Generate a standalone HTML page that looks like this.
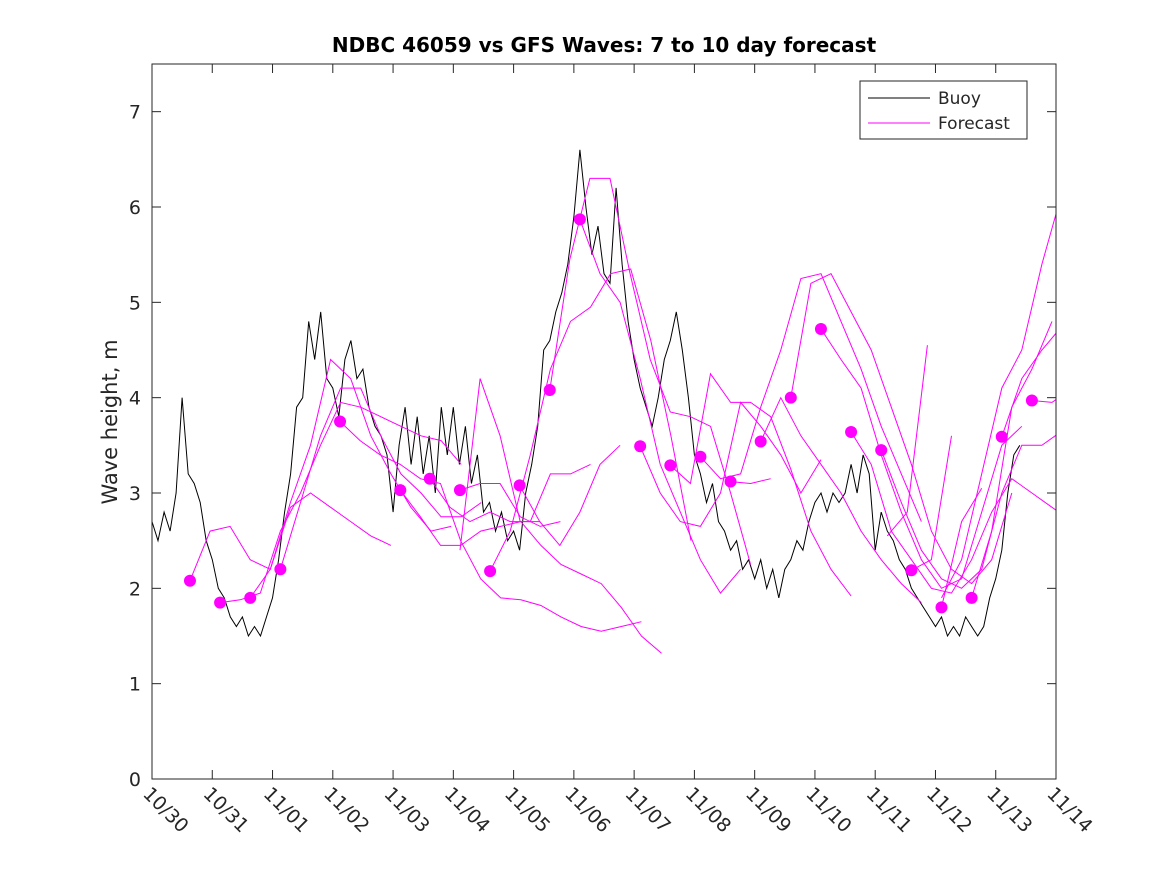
<!DOCTYPE html>
<html><head><meta charset="utf-8"><style>
body{margin:0;background:#fff;}
svg text{font-family:"DejaVu Sans","Liberation Sans",sans-serif;fill:#262626;}
</style></head><body>
<svg id="chart" width="1167" height="875" viewBox="0 0 1167 875" xmlns="http://www.w3.org/2000/svg">
<rect width="1167" height="875" fill="#fff"/>
<text x="604" y="52" text-anchor="middle" font-size="20" font-weight="bold" style="fill:#000">NDBC 46059 vs GFS Waves: 7 to 10 day forecast</text>
<text transform="translate(117,422) rotate(-90)" text-anchor="middle" font-size="21">Wave height, m</text>
<g id="marks"></g>
<rect x="152" y="64" width="904" height="715" fill="none" stroke="#262626" stroke-width="1"/>
<g id="axes"></g>
<g>
<rect x="860" y="81" width="167" height="58" fill="#fff" stroke="#262626"/>
<line x1="868" y1="98" x2="930" y2="98" stroke="#000"/>
<text x="938" y="104" font-size="17">Buoy</text>
<line x1="868" y1="123" x2="930" y2="123" stroke="#f0f"/>
<text x="938" y="129" font-size="17">Forecast</text>
</g>
</svg>
<script>
const xTickLabels=["10/30","10/31","11/01","11/02","11/03","11/04","11/05","11/06","11/07","11/08","11/09","11/10","11/11","11/12","11/13","11/14"];
const yTicks=[0,1,2,3,4,5,6,7];
const buoyStep=0.1;
const buoyValues=[2.7,2.5,2.8,2.6,3.0,4.0,3.2,3.1,2.9,2.5,
2.3,2.0,1.9,1.7,1.6,1.7,1.5,1.6,1.5,1.7,
1.9,2.3,2.8,3.2,3.9,4.0,4.8,4.4,4.9,4.2,
4.1,3.8,4.4,4.6,4.2,4.3,3.9,3.7,3.6,3.4,
2.8,3.5,3.9,3.3,3.8,3.2,3.6,3.0,3.9,3.4,
3.9,3.3,3.7,3.1,3.4,2.8,2.9,2.6,2.8,2.5,
2.6,2.4,3.0,3.3,3.7,4.5,4.6,4.9,5.1,5.4,
5.9,6.6,6.0,5.5,5.8,5.3,5.2,6.2,5.4,4.8,
4.4,4.1,3.9,3.7,4.0,4.4,4.6,4.9,4.5,4.0,
3.4,3.2,2.9,3.1,2.7,2.6,2.4,2.5,2.2,2.3,
2.1,2.3,2.0,2.2,1.9,2.2,2.3,2.5,2.4,2.7,
2.9,3.0,2.8,3.0,2.9,3.0,3.3,3.0,3.4,3.2,
2.4,2.8,2.6,2.5,2.3,2.2,2.0,1.9,1.8,1.7,
1.6,1.7,1.5,1.6,1.5,1.7,1.6,1.5,1.6,1.9,
2.1,2.4,3.0,3.4,3.5];
const fcStep=1/3;
const fcStarts=[0.63,1.13,1.63,2.13,3.12,4.12,4.61,5.11,5.11,5.61,6.1,6.6,7.1,8.1,8.6,9.1,9.6,10.1,10.6,11.1,11.6,12.1,12.6,12.2,13.1,13.6,14.1,14.6,13.1];
const fcValues=[
[2.08,2.6,2.65,2.3,2.2,2.85,3.0,2.85,2.7,2.55,2.45],
[1.85,1.88,1.95,2.6,3.0,3.5,3.95,3.9,3.8,3.7,3.6,3.55,3.3],
[1.9,2.2,2.9,3.5,4.4,4.2,3.6,3.2,2.85,2.6,2.65],
[2.2,2.9,3.6,4.1,4.1,3.6,3.2,3.0,2.75,2.75,2.9],
[3.75,3.55,3.4,3.3,3.15,3.1,2.5,2.1,1.9,1.88,1.82,1.7,1.6,1.55,1.6,1.65],
[3.03,2.75,2.45,2.45,2.6,2.65,2.7,2.45,2.25,2.15,2.05,1.8,1.5,1.32],
[3.15,2.85,2.7,2.8,2.7,2.7,3.2,3.2,3.3],
[3.03,3.1,3.1,2.75,2.65,2.7],
[2.4,4.2,3.6,2.7,2.7],
[2.18,2.6,3.4,4.3,4.8,4.95,5.3,5.35,4.6,3.6,2.5],
[3.08,2.7,2.45,2.8,3.3,3.5],
[4.08,5.45,6.3,6.3,5.3,4.4,3.85,3.8,3.7,3.0,2.25],
[5.87,5.3,5.0,4.2,3.3,2.8,2.3,1.95,2.2],
[3.49,3.0,2.7,2.65,3.0,3.95,3.7,3.4,3.0,3.35],
[3.29,3.1,4.25,3.95,3.95,3.8,3.25,2.6,2.2,1.92],
[3.38,3.15,3.2,3.9,4.5,5.25,5.3,4.8,4.3,3.7,3.2,2.7],
[3.12,3.1,3.15],
[3.54,4.0,3.6,3.3,3.0,2.6,2.3,2.05,1.85],
[4.0,5.2,5.3,4.9,4.5,3.9,3.3,2.6,2.2,2.05,2.3,3.0],
[4.72,4.4,4.1,3.4,2.8,2.3,2.0,2.1,2.8,3.5,3.7],
[3.64,3.3,2.6,2.3,2.0,1.95,2.3,2.8,3.15,3.0,2.85,2.7],
[3.45,2.9,2.4,2.1,2.0,2.2,3.0,3.5,3.5,3.65],
[2.19,2.3,3.6],
[2.55,2.8,4.55],
[1.8,2.7,3.05],
[1.9,2.6,3.9,4.3,4.8],
[3.59,4.2,4.5,4.75],
[3.97,3.95,4.1],
[1.9,2.3,3.2,4.1,4.5,5.4,6.15]];
const dotDays=[0.63,1.13,1.63,2.13,3.12,4.12,4.61,5.11,5.61,6.1,6.6,7.1,8.1,8.6,9.1,9.6,10.1,10.6,11.1,11.6,12.1,12.6,13.1,13.6,14.1,14.6];
const dotValues=[2.08,1.85,1.9,2.2,3.75,3.03,3.15,3.03,2.18,3.08,4.08,5.87,3.49,3.29,3.38,3.12,3.54,4.0,4.72,3.64,3.45,2.19,1.8,1.9,3.59,3.97];

const X0=152,X1=1056,Y0=779,Y1=64,DMAX=15,VMAX=7.5;
const xs=d=>X0+(X1-X0)*d/DMAX;
const ys=v=>Y0-(Y0-Y1)*v/VMAX;
const NS="http://www.w3.org/2000/svg";
const marks=document.getElementById('marks'),axes=document.getElementById('axes');
function mk(t,a,p){const e=document.createElementNS(NS,t);for(const k in a)e.setAttribute(k,a[k]);p.appendChild(e);return e;}
const clip=mk('clipPath',{id:'pc'},marks);mk('rect',{x:X0,y:Y1,width:X1-X0,height:Y0-Y1},clip);
const g=mk('g',{'clip-path':'url(#pc)'},marks);
let bp=buoyValues.map((v,i)=>xs(i*buoyStep).toFixed(1)+','+ys(v).toFixed(1)).join(' ');
const bl=mk('polyline',{points:bp,fill:'none',stroke:'#000','stroke-width':1},g);


fcValues.forEach((arr,k)=>{
 const p=arr.map((v,i)=>xs(fcStarts[k]+i*fcStep).toFixed(1)+','+ys(v).toFixed(1)).join(' ');
 const l=mk('polyline',{points:p,fill:'none',stroke:'#f0f','stroke-width':1},g);
 
 
});
dotDays.forEach((d,i)=>{
 const c=mk('circle',{cx:xs(d),cy:ys(dotValues[i]),r:6,fill:'#f0f'},g);
 
 
});
xTickLabels.forEach((lab,i)=>{
 const x=xs(i);
 mk('line',{x1:x,y1:Y0,x2:x,y2:Y0-9,stroke:'#262626'},axes);
 mk('line',{x1:x,y1:Y1,x2:x,y2:Y1+9,stroke:'#262626'},axes);
 const t=mk('text',{transform:`translate(${x-10},${Y0+16}) rotate(45)`,'font-size':19},axes);
 t.textContent=lab;
 
 
});
yTicks.forEach(v=>{
 const y=ys(v);
 mk('line',{x1:X0,y1:y,x2:X0+9,y2:y,stroke:'#262626'},axes);
 mk('line',{x1:X1,y1:y,x2:X1-9,y2:y,stroke:'#262626'},axes);
 const t=mk('text',{x:X0-11,y:y+7,'text-anchor':'end','font-size':19},axes);
 t.textContent=v;
 
 
});
</script>
</body></html>
